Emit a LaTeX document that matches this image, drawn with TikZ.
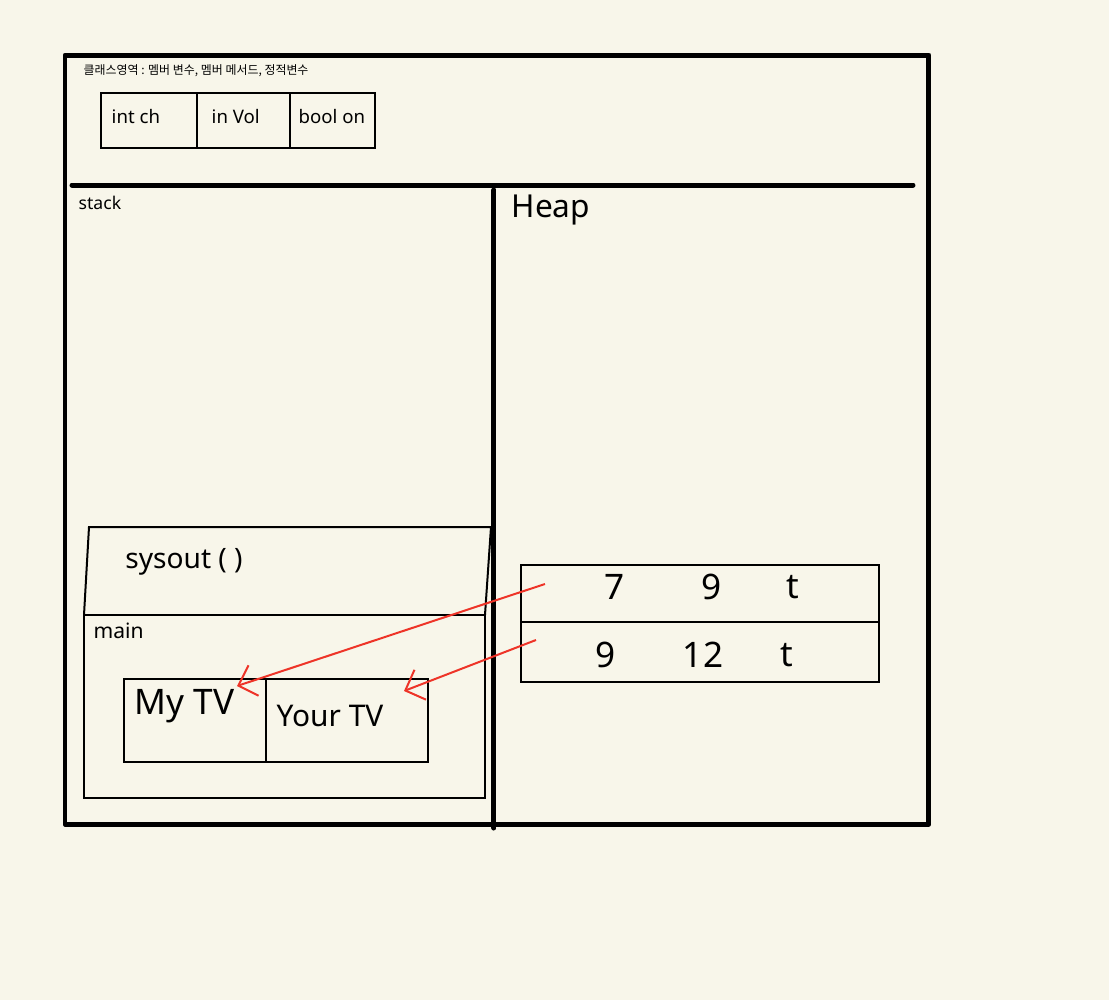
\documentclass[tikz,border=0pt]{standalone}
\usepackage{fontspec}
\setmainfont{Noto Sans}
\newfontfamily\kofont{Noto Sans CJK KR}
\usepackage{xcolor}
\usetikzlibrary{positioning,arrows.meta}
\definecolor{paper}{RGB}{248,246,234}
\definecolor{pen-red}{RGB}{238,52,40}

\begin{document}
\begin{tikzpicture}
[
x=0.1mm, y=-0.1mm,
wall/.style={line width=0.5mm, line cap=round, line join=round},
cell-a/.style={draw, line width=0.2mm, outer sep=0pt, inner sep=0pt, minimum height=5.5mm},
cell-b/.style={draw, line width=0.2mm, outer sep=0pt, inner sep=0pt, minimum height=8.3mm},
row-a/.style={draw, line width=0.2mm, outer sep=0pt, inner sep=0pt, minimum width=35.8mm},
text-a/.style={inner sep=0pt, font=\fontsize{5.3}{6}\selectfont},
text-b/.style={inner sep=0pt, font=\fontsize{10}{12}\selectfont},
text-c/.style={inner sep=0pt, font=\fontsize{5}{6}\selectfont},
ptr/.style={->, draw=pen-red, line width=0.2mm},
>={Straight Barb[length=1.6mm, width=3.2mm]}
]

\useasboundingbox [fill=paper] (0,0) rectangle (1109,1000);

% memory frame
\draw [wall] (65,55) rectangle (929,824);
\draw [wall] (72,185) -- (913,185);
\draw [wall] (494,190) -- (494,828);

% class area
\node (class-title) [text-c, anchor=north west] at (83,64) {\kofont\fontsize{3.4}{4}\selectfont 클래스영역 : 멤버 변수, 멤버 메서드, 정적변수};
\node (cell-ch)  [cell-a, minimum width=9.6mm, anchor=north west] at (101,93) {};
\node (cell-vol) [cell-a, minimum width=9.3mm, right = 00.00mm of cell-ch]  {};
\node (cell-on)  [cell-a, minimum width=8.5mm, right = 00.00mm of cell-vol] {};
\node (text-ch)  [text-a, anchor=west] at ([xshift=1.0mm, yshift=0.4mm]cell-ch.west)  {int ch};
\node (text-vol) [text-a, anchor=west] at ([xshift=1.4mm, yshift=0.4mm]cell-vol.west) {in Vol};
\node (text-on)  [text-a, anchor=west] at ([xshift=0.8mm, yshift=0.4mm]cell-on.west)  {bool on};

% stack
\node (stack-title) [text-c, anchor=north west] at (78,195) {stack};
\node (main-frame) [draw, line width=0.2mm, outer sep=0pt, minimum width=40.1mm, minimum height=18.3mm, anchor=north west] at (84,615) {};
\draw [line width=0.2mm] (main-frame.north west) -- ++(5,-88) -- ++(402,0) -- (main-frame.north east);
\node (sysout) [text-b, font=\fontsize{8}{10}\selectfont] at (184,562) {sysout ( )};
\node (main-title) [text-a, font=\fontsize{6}{7}\selectfont, anchor=north west] at (93,622) {main};
\node (cell-my)   [cell-b, minimum width=14.2mm, anchor=north west] at (124,679) {};
\node (cell-your) [cell-b, minimum width=16.2mm, right = 00.00mm of cell-my] {};
\node (text-my)   [text-b, below right = 01.00mm and 01.00mm of cell-my.north west] {My TV};
\node (text-your) [text-b, font=\fontsize{8.5}{10}\selectfont] at (330,716) {Your TV};

% heap
\node (heap-title) [text-b, font=\fontsize{9}{11}\selectfont, anchor=north west] at (511,194) {Heap};
\node (obj-1) [row-a, minimum height=5.7mm, anchor=north west] at (521,565) {};
\node (obj-2) [row-a, minimum height=6.0mm, below = 00.00mm of obj-1] {};
\foreach \x/\v [count=\i] in {615/7, 712/9, 793/t}
  \node (val-1-\i) [text-b] at (\x,587) {\v};
\foreach \x/\v [count=\i] in {606/9, 703/12, 787/t}
  \node (val-2-\i) [text-b] at (\x,655) {\v};

% references
\coordinate (ref-1) at (545,584);
\coordinate (ref-2) at (536,640);
\coordinate (tip-my)   at (237,686);
\coordinate (tip-your) at (404,691);
\draw [ptr] (ref-1) -- (tip-my);
\draw [ptr] (ref-2) -- (tip-your);

\end{tikzpicture}
\end{document}
